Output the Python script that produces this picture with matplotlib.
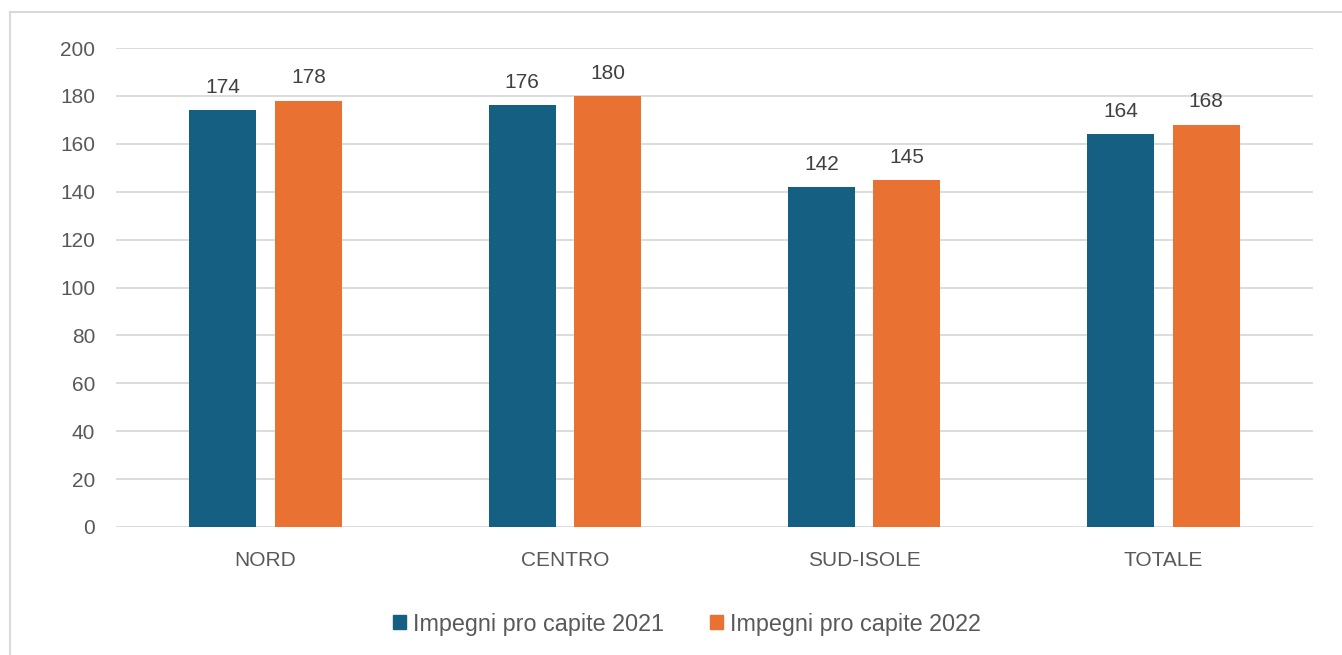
import numpy as np
import matplotlib.pyplot as plt
from matplotlib.lines import Line2D

plt.rcParams['font.family'] = ['Liberation Sans', 'DejaVu Sans']

# data
categories = ['NORD', 'CENTRO', 'SUD-ISOLE', 'TOTALE']
impegni_2021 = [174, 176, 142, 164]
impegni_2022 = [178, 180, 145, 168]
series_labels = ['Impegni pro capite 2021', 'Impegni pro capite 2022']
yticks = [0, 20, 40, 60, 80, 100, 120, 140, 160, 180, 200]

blue = '#156082'
orange = '#E97132'
grid_col = '#D9D9D9'
txt_col = '#595959'

fig = plt.figure(figsize=(13.42, 6.55), dpi=100)
ax = fig.add_axes([116/1342, 1-527/655, (1313-116)/1342, (527-48)/655])

x = np.arange(len(categories))
w = 0.224
off = 0.143
b1 = ax.bar(x - off, impegni_2021, w, color=blue, label=series_labels[0], zorder=3)
b2 = ax.bar(x + off, impegni_2022, w, color=orange, label=series_labels[1], zorder=3)

for bars in (b1, b2):
    for r in bars:
        ax.annotate(f'{r.get_height():.0f}', (r.get_x() + r.get_width()/2, r.get_height()),
                    xytext=(0, 9.5), textcoords='offset points', ha='center', va='bottom',
                    fontsize=15, color='#404040')

ax.set_xlim(-0.5, len(categories) - 0.5)
ax.set_ylim(0, 200)
ax.set_yticks(yticks)
ax.set_xticks(x)
ax.set_xticklabels(categories)
ax.tick_params(axis='both', length=0, labelsize=15, colors=txt_col)
ax.tick_params(axis='y', pad=15)
ax.tick_params(axis='x', pad=17)
ax.yaxis.grid(True, color=grid_col, linewidth=1.3, zorder=0)
for s in ax.spines.values():
    s.set_visible(False)

handles = [plt.Rectangle((0, 0), 1, 1, color=blue), plt.Rectangle((0, 0), 1, 1, color=orange)]
fig.legend(handles, series_labels, loc='center', bbox_to_anchor=(687/1342, 1-624/655),
           ncol=2, frameon=False, fontsize=16.8, labelcolor=txt_col,
           handlelength=0.55, handleheight=0.55, handletextpad=0.3, columnspacing=2.0)

# chart border (top and left visible)
fig.add_artist(Line2D([10/1342, 1], [1-12/655, 1-12/655], color='#D9D9D9', linewidth=1.5))
fig.add_artist(Line2D([10/1342, 10/1342], [0, 1-12/655], color='#D9D9D9', linewidth=1.5))

fig.savefig('out.png', dpi=100)
